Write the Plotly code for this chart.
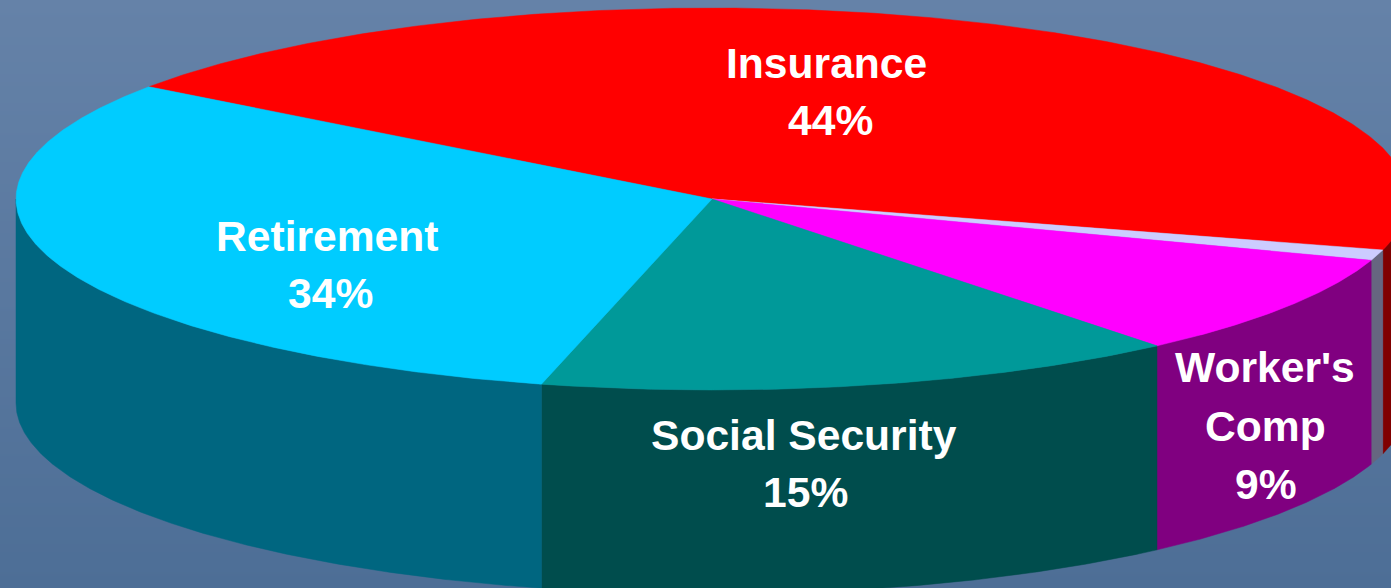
import numpy as np
import plotly.graph_objects as go

# Data
slice_names = ["Insurance", "Other", "Worker's Comp", "Social Security", "Retirement"]
slice_shares = [44.3, 0.9, 8.76, 14.98, 31.06]      # drawn angular share, per cent
top_colors = ["#FF0000", "#CCCCFF", "#FF00FF", "#009999", "#00CCFF"]
side_colors = ["#800000", "#666680", "#800080", "#004D4D", "#006680"]

label_text = ["Insurance", "44%", "Retirement", "34%", "Social Security", "15%", "Worker's", "Comp", "9%"]
label_x = [826, 830, 327, 330, 804, 805, 1265, 1265, 1266]
label_y = [63, 120, 236, 293, 435, 492, 367, 426, 484]

# Projection of the tilted disc
CX, CY, RX, RY, DEPTH = 712, 199, 696, 191, 204
START_ANGLE = 144.0


def rim(angles_deg, drop=0.0):
    t = np.radians(angles_deg)
    return CX + RX * np.cos(t), CY - RY * np.sin(t) + drop


fig = go.Figure()

# Background gradient
fig.add_trace(go.Heatmap(
    x=[0, 1391], y=[0, 588], z=[[0, 0], [1, 1]], zsmooth="best", showscale=False,
    colorscale=[[0, "#6582A8"], [1, "#4D6E96"]], hoverinfo="skip"))

bounds = START_ANGLE - np.concatenate([[0], np.cumsum(slice_shares)]) * 3.6

# Side walls (only the front half of the rim, -180..0 degrees)
for i, name in enumerate(slice_names):
    a0, a1 = bounds[i], bounds[i + 1]
    hi, lo = min(a0, 0), max(a1, -180)
    if hi <= lo:
        continue
    a = np.linspace(hi, lo, 200)
    xt, yt = rim(a)
    xb, yb = rim(a, DEPTH)
    fig.add_trace(go.Scatter(
        x=np.r_[xt, xb[::-1], xt[0]], y=np.r_[yt, yb[::-1], yt[0]],
        mode="lines", fill="toself", fillcolor=side_colors[i],
        line=dict(color=side_colors[i], width=0.5), name=name, hoverinfo="name",
        showlegend=False))

# Top faces
for i, name in enumerate(slice_names):
    a = np.linspace(bounds[i], bounds[i + 1], 400)
    xt, yt = rim(a)
    fig.add_trace(go.Scatter(
        x=np.r_[CX, xt, CX], y=np.r_[CY, yt, CY],
        mode="lines", fill="toself", fillcolor=top_colors[i],
        line=dict(color=top_colors[i], width=0.5), name=name, hoverinfo="name",
        showlegend=False))

# Labels
for txt, lx, ly in zip(label_text, label_x, label_y):
    fig.add_annotation(x=lx, y=ly, text=txt, showarrow=False,
                       xanchor="center", yanchor="middle",
                       font=dict(family="Liberation Sans", size=42.6, color="white", weight="bold"))

fig.update_layout(
    width=1391, height=588, margin=dict(l=0, r=0, t=0, b=0),
    paper_bgcolor="#5A789E", plot_bgcolor="#5A789E", showlegend=False,
    xaxis=dict(range=[0, 1391], visible=False, fixedrange=True),
    yaxis=dict(range=[588, 0], visible=False, fixedrange=True),
)
fig.write_html("out.html", config={"displayModeBar": False}, default_width="1391px", default_height="588px",
               include_plotlyjs=True,
               post_script="document.body.style.margin='0';document.documentElement.style.overflow='hidden';window.dispatchEvent(new Event('resize'));")
